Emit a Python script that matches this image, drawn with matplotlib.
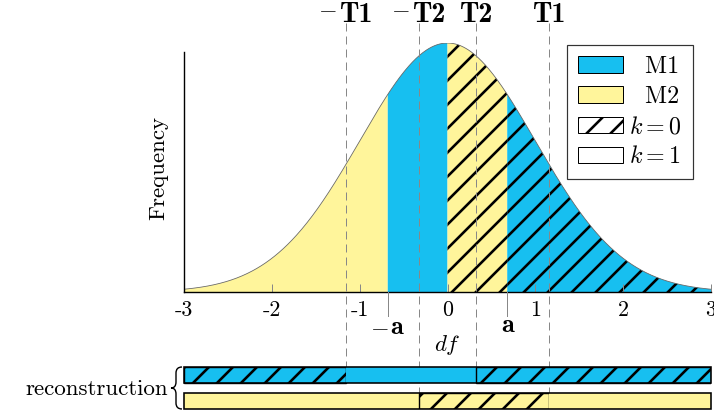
import numpy as np
import matplotlib
matplotlib.use("Agg")
import matplotlib.pyplot as plt
from matplotlib.path import Path
from matplotlib.patches import PathPatch, Patch, Rectangle
from matplotlib.transforms import blended_transform_factory

plt.rcParams['font.family'] = 'cmr10'
plt.rcParams['mathtext.fontset'] = 'cm'
plt.rcParams['axes.formatter.use_mathtext'] = True
plt.rcParams['hatch.linewidth'] = 1.3

# data
x_ticks = [-3, -2, -1, 0, 1, 2, 3]
x_tick_labels = ['-3', '-2', '-1', '0', '1', '2', '3']
T1 = 1.15
T2 = 0.32
a = 0.68
sigma = 1.0

BLUE = '#17bff0'
YELLOW = '#fff59b'

# main plot regions: (start, end, model, hatched)
main_regions = [(-3, -a, 'M2', False), (-a, 0, 'M1', False),
                (0, a, 'M2', True), (a, 3, 'M1', True)]
# reconstruction bars
blue_bar = [(-3, -T1, True), (-T1, T2, False), (T2, 3, True)]
yellow_bar = [(-3, -T2, False), (-T2, T1, True), (T1, 3, False)]

colors = {'M1': BLUE, 'M2': YELLOW}

DPI = 144
W, H = 714, 415
fig = plt.figure(figsize=(W / DPI, H / DPI), dpi=DPI)

def fx(px):
    return px / W

def fy(py):
    return 1 - py / H

# main axes
ax = fig.add_axes([fx(184), fy(292), fx(711) - fx(184), fy(43) - fy(292)])
xs = np.linspace(-3, 3, 601)
pdf = np.exp(-xs ** 2 / (2 * sigma ** 2)) / (sigma * np.sqrt(2 * np.pi))
ymax = pdf.max()
for s, e, m, h in main_regions:
    sel = (xs >= s - 1e-9) & (xs <= e + 1e-9)
    if h:
        ax.fill_between(xs[sel], 0, pdf[sel], facecolor=colors[m],
                        edgecolor='black', linewidth=0, hatch='//', zorder=1)
    else:
        ax.fill_between(xs[sel], 0, pdf[sel], facecolor=colors[m],
                        edgecolor='none', linewidth=0, zorder=1)
ax.plot(xs, pdf, color='#666666', lw=0.4, zorder=2)
ax.set_xlim(-3, 3)
ax.set_ylim(0, ymax)
for sp in ['top', 'right']:
    ax.spines[sp].set_visible(False)
for sp in ['left', 'bottom']:
    ax.spines[sp].set_linewidth(0.7)
ax.spines['left'].set_bounds(0, ymax * (292 - 52) / (292 - 43))
ax.set_yticks([])
ax.set_xticks(x_ticks)
ax.set_xticklabels(x_tick_labels, fontsize=11)
ax.tick_params(axis='x', direction='in', length=4, width=0.5, color='#888888', pad=4)
ax.set_ylabel('Frequency', fontsize=11.5, labelpad=8)

trans = blended_transform_factory(ax.transData, fig.transFigure)


def bold_label(x, py, txt, minus, size, lift):
    # bold part in cmb10, optional math minus in front; whole label centred on x
    shift = 4.5 if minus else 0
    t = ax.annotate(txt, xy=(x, fy(py)), xycoords=trans, xytext=(shift, 0),
                    textcoords='offset points', ha='center', va='center',
                    fontsize=size, fontfamily='cmb10', annotation_clip=False)
    if minus:
        ax.annotate(r'$-$', xy=(0, 0.5), xycoords=t, xytext=(-1.0, lift),
                    textcoords='offset points', ha='right', va='center',
                    fontsize=12, annotation_clip=False)


# -a and a markers
for v in (-a, a):
    ax.plot([v, v], [fy(292), fy(316)], color='#888888', lw=0.5,
            transform=trans, clip_on=False, zorder=3)
bold_label(-a, 328, 'a', True, 13, 0.0)
bold_label(a, 325, 'a', False, 13, 0.0)
ax.text(0, fy(345), r'$df$', transform=trans, ha='center', va='center', fontsize=11.5)

# legend
handles = [Patch(facecolor=BLUE, edgecolor='black', linewidth=0.5, label='  M1'),
           Patch(facecolor=YELLOW, edgecolor='black', linewidth=0.5, label='  M2'),
           Patch(facecolor='white', edgecolor='black', linewidth=0.5, hatch='//', label=r'$k=0$'),
           Patch(facecolor='white', edgecolor='black', linewidth=0.5, label=r'$k=1$')]
leg = ax.legend(handles=handles, loc='upper left',
                bbox_to_anchor=(fx(567), fy(45)), bbox_transform=fig.transFigure,
                fontsize=12, frameon=True, fancybox=False, edgecolor='black',
                handlelength=1.9, handleheight=0.66, handletextpad=0.25,
                labelspacing=0.33, borderpad=0.45, borderaxespad=0)
leg.get_frame().set_linewidth(0.6)

# reconstruction bars
bx = fig.add_axes([fx(184), fy(409), fx(711) - fx(184), fy(367) - fy(409)])
bx.set_xlim(-3, 3)
bx.set_ylim(0, 42)
bx.axis('off')
bar_h = 16
for y0, segs, col in ((26, blue_bar, BLUE), (0, yellow_bar, YELLOW)):
    for s, e, h in segs:
        if h:
            bx.add_patch(Rectangle((s, y0), e - s, bar_h, facecolor=col,
                                   edgecolor='black', linewidth=0.7, hatch='//', zorder=1))
        else:
            bx.add_patch(Rectangle((s, y0), e - s, bar_h, facecolor=col,
                                   edgecolor='none', linewidth=0, zorder=1))
    bx.add_patch(Rectangle((-3, y0), 6, bar_h, facecolor='none',
                           edgecolor='black', linewidth=0.8, zorder=4, clip_on=False))

# thresholds: dashed guides and labels
guides = [(-T1, 'T1', True, 383), (-T2, 'T2', True, 409),
          (T2, 'T2', False, 383), (T1, 'T1', False, 409)]
for v, lab, neg, end in guides:
    ax.plot([v, v], [fy(23), fy(end)], color='#888888', lw=0.5,
            dashes=(8, 5), transform=trans, clip_on=False, zorder=5)
    bold_label(v, 14.5, lab, neg, 14, 2.3)

# brace and label
bp = [(182, 367), (176, 367), (176, 373), (176, 382), (176, 388),
      (171, 388), (176, 388), (176, 394), (176, 403), (176, 409), (182, 409)]
verts = [(fx(px), fy(py)) for px, py in bp]
codes = [Path.MOVETO, Path.CURVE3, Path.CURVE3, Path.LINETO, Path.CURVE3, Path.CURVE3,
         Path.CURVE3, Path.CURVE3, Path.LINETO, Path.CURVE3, Path.CURVE3]
fig.add_artist(PathPatch(Path(verts, codes), transform=fig.transFigure,
                         facecolor='none', edgecolor='black', lw=0.7))
fig.text(fx(168), fy(389), 'reconstruction', ha='right', va='center', fontsize=11.5)

fig.savefig('out.png', dpi=DPI)
